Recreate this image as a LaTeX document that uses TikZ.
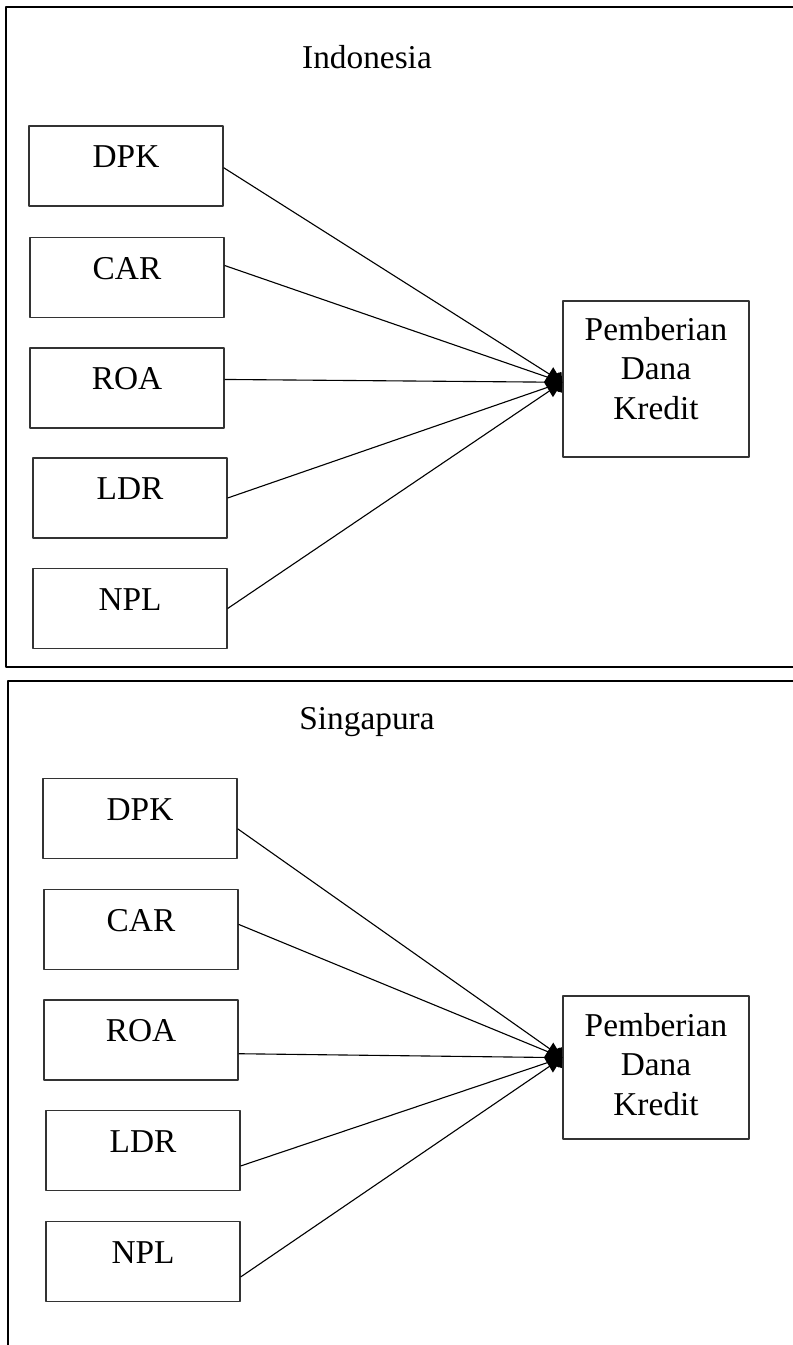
\documentclass[tikz,border=0pt]{standalone}
\usepackage{fontspec}
\setmainfont{Liberation Serif}
\usetikzlibrary{arrows.meta}

\begin{document}
\begin{tikzpicture}[x=0.36pt,y=-0.36pt,line join=round,font=\fontsize{12pt}{14.2pt}\selectfont,
	varbox/.style={draw=black!80,line width=0.5pt,minimum width=69.8pt,minimum height=28.8pt,inner sep=0pt,text height=8.4pt,text depth=7pt},
	depbox/.style={draw=black!80,line width=0.5pt,minimum width=67pt,align=center,inner sep=0pt},
	frame/.style={line width=0.8pt,black},
	link/.style={line width=0.4pt,black,-{Diamond[length=4.5pt,width=6pt]}},
	mainlink/.style={line width=0.4pt,black,-{Diamond[length=6.6pt,width=10.8pt]}}]
	\useasboundingbox (0,0) rectangle (792,1345);
	% Indonesia
	\draw[frame] (820,7) -| (6,667) -- (820,667);
	\node (judul-1) at (367,57) {Indonesia};
	\node[varbox] (dpk-1) at (126,166) {DPK};
	\node[varbox] (car-1) at (127,277.5) {CAR};
	\node[varbox] (roa-1) at (127,388) {ROA};
	\node[varbox] (ldr-1) at (130,498) {LDR};
	\node[varbox] (npl-1) at (130,608.5) {NPL};
	\node[depbox,minimum height=56.2pt,text height=30.8pt,text depth=2pt] (kredit-1) at (656,379) {Pemberian\\Dana\\Kredit};
	\draw[link] (dpk-1.-1) -- (kredit-1.182);
	\draw[link] (car-1.7) -- (kredit-1.182);
	\draw[mainlink] (roa-1.5) -- (kredit-1.182);
	\draw[link] (ldr-1.east) -- (kredit-1.182);
	\draw[link] (npl-1.east) -- (kredit-1.182);
	% Singapura
	\draw[frame] (8,1360) |- (820,681);
	\node (judul-2) at (367,722) {Singapura};
	\node[varbox] (dpk-2) at (140,818.5) {DPK};
	\node[varbox] (car-2) at (141,929.5) {CAR};
	\node[varbox] (roa-2) at (141,1040) {ROA};
	\node[varbox] (ldr-2) at (143,1150.5) {LDR};
	\node[varbox] (npl-2) at (143,1261.5) {NPL};
	\node[depbox,minimum height=51.5pt,text height=36.2pt,text depth=2pt] (kredit-2) at (656,1067.5) {Pemberian\\Dana\\Kredit};
	\draw[link] (dpk-2.-6) -- (kredit-2.174);
	\draw[link] (car-2.3) -- (kredit-2.174);
	\draw[mainlink] (roa-2.-8) -- (kredit-2.174);
	\draw[link] (ldr-2.-9) -- (kredit-2.174);
	\draw[link] (npl-2.-9) -- (kredit-2.174);
\end{tikzpicture}
\end{document}
